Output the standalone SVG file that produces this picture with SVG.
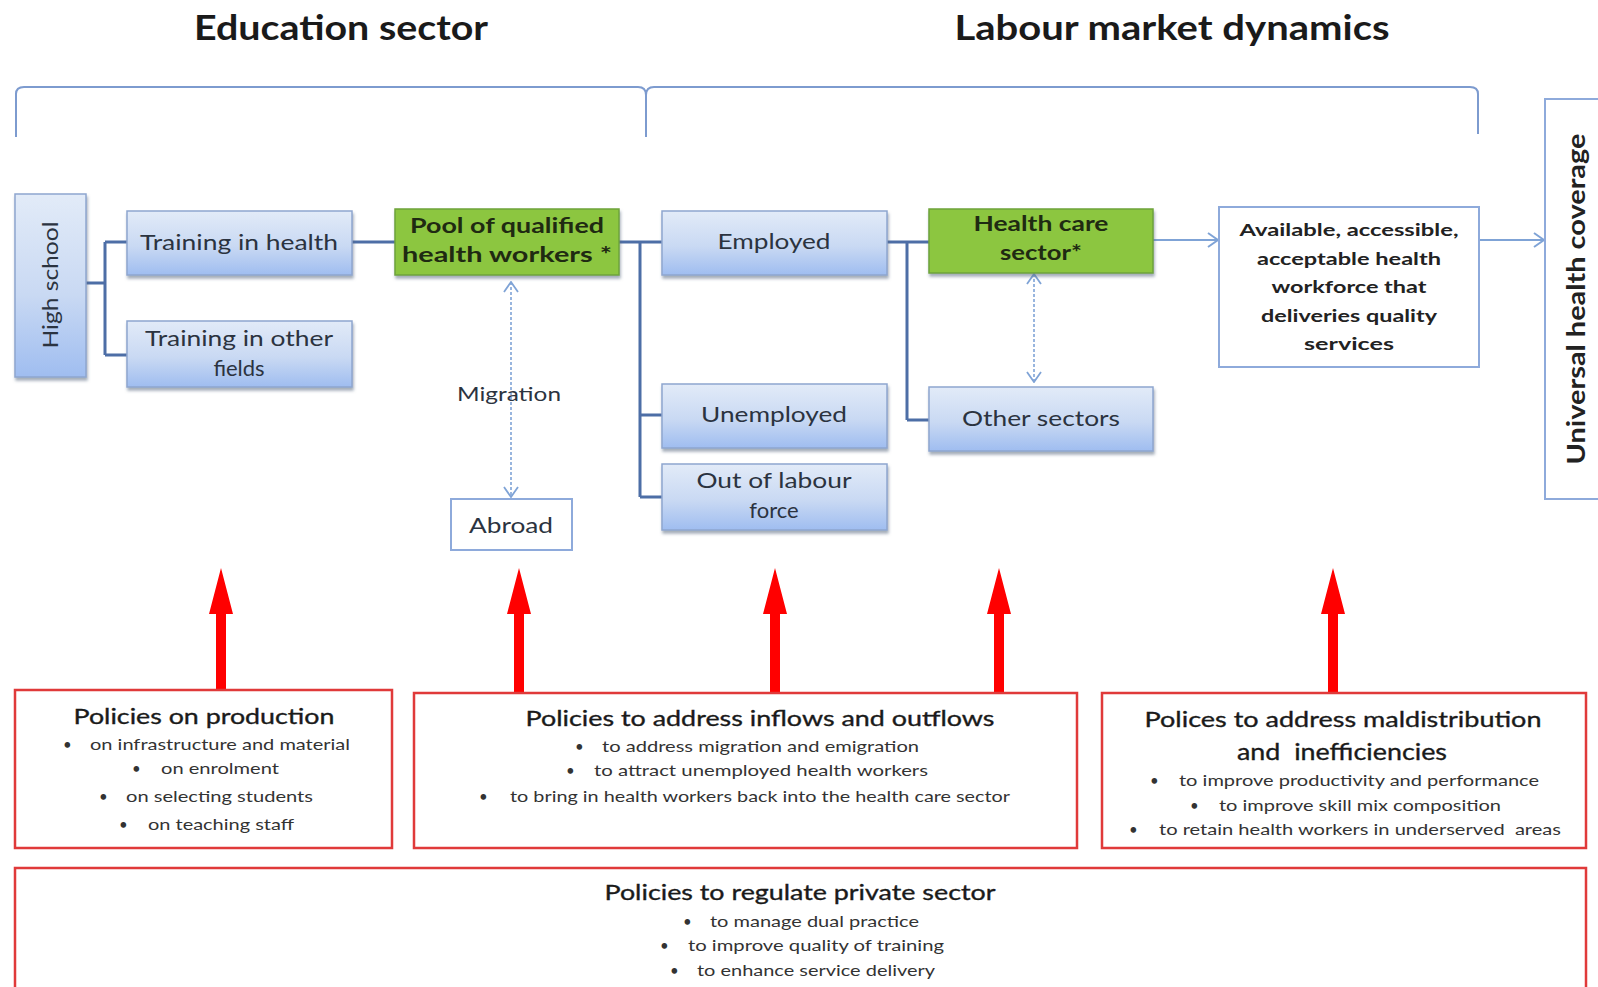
<svg xmlns="http://www.w3.org/2000/svg" width="1598" height="987" viewBox="0 0 1598 987">
<defs>
  <linearGradient id="blueGrad" x1="0" y1="0" x2="0" y2="1">
    <stop offset="0" stop-color="#e2ebf8"/>
    <stop offset="0.55" stop-color="#c9d9f3"/>
    <stop offset="1" stop-color="#9fbdf0"/>
  </linearGradient>
  <filter id="shadow" x="-10%" y="-10%" width="120%" height="130%">
    <feDropShadow dx="1" dy="3" stdDeviation="1.5" flood-color="#5a6a80" flood-opacity="0.55"/>
  </filter>
  <marker id="openArrow" viewBox="0 0 12 16" refX="11" refY="8" markerWidth="12" markerHeight="16" markerUnits="userSpaceOnUse" orient="auto-start-reverse">
    <path d="M1,1 L11,8 L1,15" fill="none" stroke="#7fa3d6" stroke-width="2"/>
  </marker>
  <marker id="smallOpen" viewBox="0 0 12 16" refX="11" refY="8" markerWidth="12" markerHeight="16" markerUnits="userSpaceOnUse" orient="auto-start-reverse">
    <path d="M1,1 L11,8 L1,15" fill="none" stroke="#7fa3d6" stroke-width="1.8"/>
  </marker>
</defs>
<style>
  .title { font-family: Lato, "Liberation Sans", sans-serif; font-weight: bold; font-size: 34px; fill: #1a1a1a; text-anchor: middle; }
  .bbox { fill: url(#blueGrad); stroke: #8ea6cf; stroke-width: 1.5; filter: url(#shadow); }
  .gbox { fill: #8cc63f; stroke: #6ea33a; stroke-width: 1.5; filter: url(#shadow); }
  .wbox { fill: #ffffff; stroke: #8eaadb; stroke-width: 2; }
  .btxt { font-family: Lato, "Liberation Sans", sans-serif; font-size: 22px; fill: #2b3340; text-anchor: middle; }
  .gtxt { font-family: Lato, "Liberation Sans", sans-serif; font-size: 21px; font-weight: bold; fill: #1f2a12; text-anchor: middle; }
  .wtxt { font-family: Lato, "Liberation Sans", sans-serif; font-size: 17px; font-weight: bold; fill: #222; text-anchor: middle; }
  .conn { fill: none; stroke: #4d6ea6; stroke-width: 3; }
  .flow { fill: none; stroke: #7fa3d6; stroke-width: 2; }
  .dot { fill: none; stroke: #7fa3d6; stroke-width: 1.6; stroke-dasharray: 3 2; }
  .brk { fill: none; stroke: #7d9bcf; stroke-width: 2; }
  .rbox { fill: #ffffff; stroke: #e03a3a; stroke-width: 2.5; }
  .rarrow { fill: #ff0000; }
  .ph { font-family: Lato, "Liberation Sans", sans-serif; font-size: 22px; fill: #1a1a1a; stroke: #1a1a1a; stroke-width: 0.35; text-anchor: middle; }
  .pb { font-family: Lato, "Liberation Sans", sans-serif; font-size: 15px; fill: #333; }
</style>
<rect width="1598" height="987" fill="#ffffff"/>

<!-- titles -->
<text class="title" x="341" y="40" textLength="294" lengthAdjust="spacingAndGlyphs">Education sector</text>
<text class="title" x="1172" y="40" textLength="435" lengthAdjust="spacingAndGlyphs">Labour market dynamics</text>

<!-- bracket -->
<g id="bracket">
  <path class="brk" d="M16,137 L16,94 Q16,87 24,87 L638,87 Q646,87 646,95 L646,137 M646,95 Q646,87 654,87 L1470,87 Q1478,87 1478,94 L1478,134"/>
</g>

<!-- connectors -->
<g id="connectors">
  <path class="conn" d="M86,283 L105,283 M105,242 L105,355 M105,242 L127,242 M105,355 L127,355"/>
  <path class="conn" d="M352,242 L395,242"/>
  <path class="conn" d="M619,242 L640,242 M640,242 L640,497 M640,242 L662,242 M640,415 L662,415 M640,497 L662,497"/>
  <path class="conn" d="M887,242 L907,242 M907,242 L907,420 M907,242 L929,242 M907,420 L929,420"/>
  <line class="flow" x1="1153" y1="240" x2="1218" y2="240" marker-end="url(#openArrow)"/>
  <line class="flow" x1="1479" y1="240" x2="1544" y2="240" marker-end="url(#openArrow)"/>
  <line class="dot" x1="511" y1="282" x2="511" y2="497" marker-start="url(#smallOpen)" marker-end="url(#smallOpen)"/>
  <line class="dot" x1="1034" y1="274" x2="1034" y2="382" marker-start="url(#smallOpen)" marker-end="url(#smallOpen)"/>
  <!-- red policy arrows -->
  <path class="rarrow" d="M216,690 L216,614 L209,614 L221,568 L233,614 L226,614 L226,690 Z"/>
  <path class="rarrow" d="M514,693 L514,614 L507,614 L519,568 L531,614 L524,614 L524,693 Z"/>
  <path class="rarrow" d="M770,693 L770,614 L763,614 L775,568 L787,614 L780,614 L780,693 Z"/>
  <path class="rarrow" d="M994,693 L994,614 L987,614 L999,568 L1011,614 L1004,614 L1004,693 Z"/>
  <path class="rarrow" d="M1328,693 L1328,614 L1321,614 L1333,568 L1345,614 L1338,614 L1338,693 Z"/>
</g>

<!-- nodes -->
<g id="high-school">
  <rect class="bbox" x="15" y="194" width="71" height="183"/>
  <text class="btxt" transform="translate(58,285) rotate(-90)" textLength="127" lengthAdjust="spacingAndGlyphs">High school</text>
</g>
<g id="training-health">
  <rect class="bbox" x="127" y="211" width="225" height="64"/>
  <text class="btxt" x="239" y="250" textLength="198" lengthAdjust="spacingAndGlyphs">Training in health</text>
</g>
<g id="training-other">
  <rect class="bbox" x="127" y="321" width="225" height="66"/>
  <text class="btxt" x="239" y="346" textLength="188" lengthAdjust="spacingAndGlyphs">Training in other</text>
  <text class="btxt" x="239" y="376">fields</text>
</g>
<g id="pool">
  <rect class="gbox" x="395" y="209" width="224" height="66"/>
  <text class="gtxt" x="507" y="233" textLength="194" lengthAdjust="spacingAndGlyphs">Pool of qualified</text>
  <text class="gtxt" x="507" y="262" textLength="210" lengthAdjust="spacingAndGlyphs">health workers *</text>
</g>
<g id="migration-label">
  <text class="btxt" x="509" y="401" textLength="104" lengthAdjust="spacingAndGlyphs" style="font-size:20px">Migration</text>
</g>
<g id="abroad">
  <rect class="wbox" x="451" y="499" width="121" height="51" stroke="#8ea6cf"/>
  <text class="btxt" x="511" y="533" textLength="84" lengthAdjust="spacingAndGlyphs" style="font-size:21px">Abroad</text>
</g>
<g id="employed">
  <rect class="bbox" x="662" y="211" width="225" height="64"/>
  <text class="btxt" x="774" y="249" textLength="113" lengthAdjust="spacingAndGlyphs">Employed</text>
</g>
<g id="unemployed">
  <rect class="bbox" x="662" y="384" width="225" height="64"/>
  <text class="btxt" x="774" y="422" textLength="146" lengthAdjust="spacingAndGlyphs">Unemployed</text>
</g>
<g id="out-of-labour">
  <rect class="bbox" x="662" y="464" width="225" height="66"/>
  <text class="btxt" x="774" y="488" textLength="155" lengthAdjust="spacingAndGlyphs">Out of labour</text>
  <text class="btxt" x="774" y="518">force</text>
</g>
<g id="health-care">
  <rect class="gbox" x="929" y="209" width="224" height="64"/>
  <text class="gtxt" x="1041" y="231" textLength="135" lengthAdjust="spacingAndGlyphs">Health care</text>
  <text class="gtxt" x="1041" y="260" textLength="82" lengthAdjust="spacingAndGlyphs">sector*</text>
</g>
<g id="other-sectors">
  <rect class="bbox" x="929" y="387" width="224" height="64"/>
  <text class="btxt" x="1041" y="426" textLength="158" lengthAdjust="spacingAndGlyphs">Other sectors</text>
</g>
<g id="available">
  <rect class="wbox" x="1219" y="207" width="260" height="160"/>
  <text class="wtxt" x="1349" y="236" textLength="219" lengthAdjust="spacingAndGlyphs">Available, accessible,</text>
  <text class="wtxt" x="1349" y="265" textLength="184" lengthAdjust="spacingAndGlyphs">acceptable health</text>
  <text class="wtxt" x="1349" y="293" textLength="155" lengthAdjust="spacingAndGlyphs">workforce that</text>
  <text class="wtxt" x="1349" y="322" textLength="176" lengthAdjust="spacingAndGlyphs">deliveries quality</text>
  <text class="wtxt" x="1349" y="350" textLength="90" lengthAdjust="spacingAndGlyphs">services</text>
</g>
<g id="uhc">
  <rect class="wbox" x="1545" y="99" width="70" height="400" stroke="#6f8fc7"/>
  <text class="wtxt" transform="translate(1585,299) rotate(-90)" style="font-size:25px" textLength="331" lengthAdjust="spacingAndGlyphs">Universal health coverage</text>
</g>

<!-- policy boxes -->
<g id="policy-production">
  <rect class="rbox" x="15" y="690" width="377" height="158"/>
  <text class="ph" x="204" y="724" textLength="261" lengthAdjust="spacingAndGlyphs">Policies on production</text>
  <text class="pb" x="63" y="750">•</text><text class="pb" x="90" y="750" textLength="260" lengthAdjust="spacingAndGlyphs">on infrastructure and material</text>
  <text class="pb" x="132" y="774">•</text><text class="pb" x="161" y="774" textLength="118" lengthAdjust="spacingAndGlyphs">on enrolment</text>
  <text class="pb" x="99" y="802">•</text><text class="pb" x="126" y="802" textLength="187" lengthAdjust="spacingAndGlyphs">on selecting students</text>
  <text class="pb" x="119" y="830">•</text><text class="pb" x="148" y="830" textLength="146" lengthAdjust="spacingAndGlyphs">on teaching staff</text>
</g>
<g id="policy-inflows">
  <rect class="rbox" x="414" y="693" width="663" height="155"/>
  <text class="ph" x="760" y="726" textLength="469" lengthAdjust="spacingAndGlyphs">Policies to address inflows and outflows</text>
  <text class="pb" x="575" y="752">•</text><text class="pb" x="602" y="752" textLength="317" lengthAdjust="spacingAndGlyphs">to address migration and emigration</text>
  <text class="pb" x="566" y="776">•</text><text class="pb" x="594" y="776" textLength="334" lengthAdjust="spacingAndGlyphs">to attract unemployed health workers</text>
  <text class="pb" x="479" y="802">•</text><text class="pb" x="510" y="802" textLength="500" lengthAdjust="spacingAndGlyphs">to bring in health workers back into the health care sector</text>
</g>
<g id="policy-maldistribution">
  <rect class="rbox" x="1102" y="693" width="484" height="155"/>
  <text class="ph" x="1343" y="727" textLength="397" lengthAdjust="spacingAndGlyphs">Polices to address maldistribution</text>
  <text class="ph" x="1342" y="760" style="font-size:24px" textLength="210" lengthAdjust="spacingAndGlyphs" xml:space="preserve">and  inefficiencies</text>
  <text class="pb" x="1150" y="786">•</text><text class="pb" x="1179" y="786" textLength="360" lengthAdjust="spacingAndGlyphs">to improve productivity and performance</text>
  <text class="pb" x="1190" y="811">•</text><text class="pb" x="1219" y="811" textLength="282" lengthAdjust="spacingAndGlyphs">to improve skill mix composition</text>
  <text class="pb" x="1129" y="835">•</text><text class="pb" x="1159" y="835" textLength="402" lengthAdjust="spacingAndGlyphs" xml:space="preserve">to retain health workers in underserved  areas</text>
</g>
<g id="policy-private">
  <rect class="rbox" x="15" y="868" width="1571" height="125"/>
  <text class="ph" x="800" y="900" textLength="391" lengthAdjust="spacingAndGlyphs">Policies to regulate private sector</text>
  <text class="pb" x="683" y="927">•</text><text class="pb" x="710" y="927" textLength="209" lengthAdjust="spacingAndGlyphs">to manage dual practice</text>
  <text class="pb" x="660" y="951">•</text><text class="pb" x="688" y="951" textLength="256" lengthAdjust="spacingAndGlyphs">to improve quality of training</text>
  <text class="pb" x="670" y="976">•</text><text class="pb" x="697" y="976" textLength="238" lengthAdjust="spacingAndGlyphs">to enhance service delivery</text>
</g>
</svg>
